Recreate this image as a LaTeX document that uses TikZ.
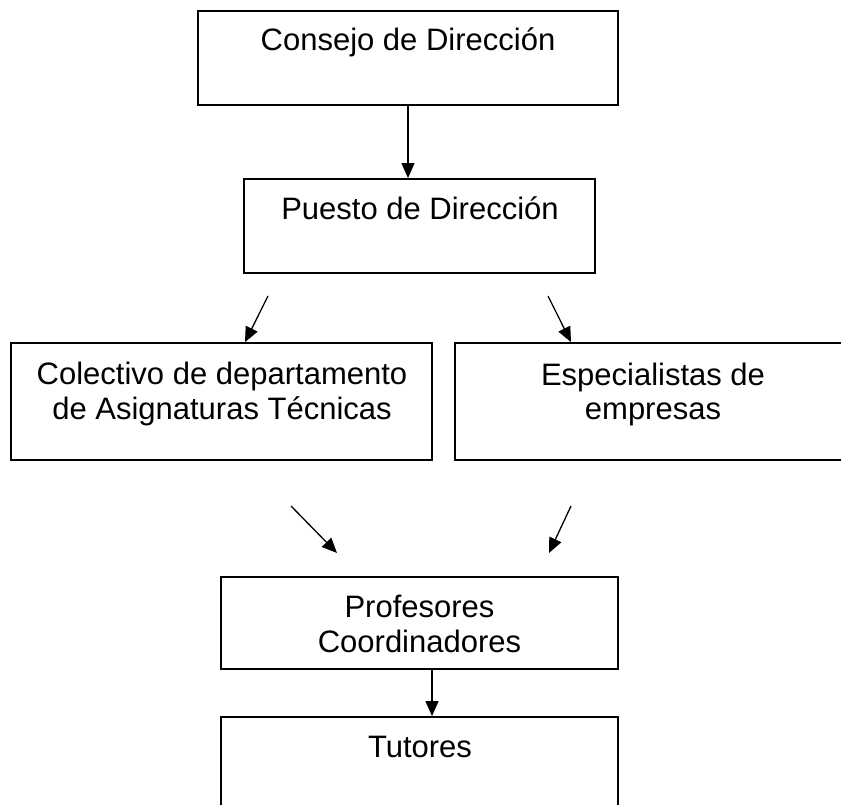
\documentclass[tikz,border=0pt]{standalone}
\usepackage{fontspec}
\setmainfont{Liberation Sans}
\usetikzlibrary{arrows.meta,calc}
\begin{document}
\begin{tikzpicture}[x=1pt,y=-1pt,
  box/.style={draw=black,line width=1.8pt,rectangle,inner sep=0pt,fill=none},
  txt/.style={anchor=base,inner sep=0pt,font=\fontsize{31}{35}\selectfont},
  arr/.style={line width=1.3pt,-{Triangle[length=15pt,width=13pt]}}]
\useasboundingbox (0,0) rectangle (841,805);
\fill[white] (0,0) rectangle (841,805);
% boxes
\node[box,minimum width=420pt,minimum height=94pt] (b1) at (408,58) {};
\node[box,minimum width=351pt,minimum height=94pt] (b2) at (419.5,226) {};
\node[box,minimum width=421pt,minimum height=117pt] (b3) at (221.5,401.5) {};
\node[box,minimum width=396pt,minimum height=117pt] (b4) at (653,401.5) {};
\node[box,minimum width=397pt,minimum height=92pt] (b5) at (419.5,623) {};
\node[box,minimum width=397pt,minimum height=94pt] (b6) at (419.5,764) {};
% texts
\node[txt] (t1) at (408,50.5) {Consejo de Dirección};
\node[txt] (t2) at (420,220) {Puesto de Dirección};
\node[txt] (t3a) at (222,384) {Colectivo de departamento};
\node[txt] (t3b) at (222,419) {de Asignaturas Técnicas};
\node[txt] (t4a) at (653,385) {Especialistas de};
\node[txt] (t4b) at (653,419) {empresas};
\node[txt] (t5a) at (419.5,617) {Profesores};
\node[txt] (t5b) at (419.5,652) {Coordinadores};
\node[txt] (t6) at (420,757) {Tutores};
% connector ends
\coordinate (s2) at (268,296);
\coordinate (s3) at (548,296);
\coordinate (s4) at (291,506);
\coordinate (e4) at (337,553);
\coordinate (s5) at (571,506);
\coordinate (e5) at (549,553);
\coordinate (x2) at (245,0);
\coordinate (x3) at (571,0);
\coordinate (x6) at (432,0);
% connectors
\draw[arr] (b1.south) -- (b1.south |- b2.north);
\draw[arr] (s2) -- (x2 |- b3.north);
\draw[arr] (s3) -- (x3 |- b4.north);
\draw[arr] (s4) -- (e4);
\draw[arr] (s5) -- (e5);
\draw[arr] (x6 |- b5.south) -- (x6 |- b6.north);
\end{tikzpicture}
\end{document}
